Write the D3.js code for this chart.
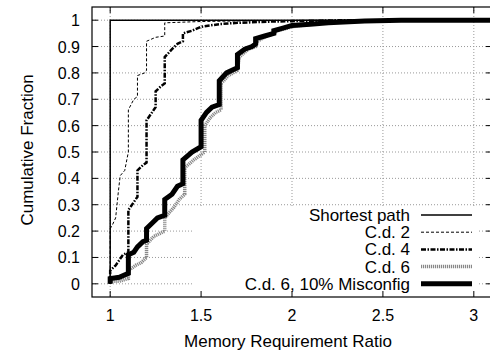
<!DOCTYPE html>
<html><head><meta charset="utf-8">
<script src="https://cdn.jsdelivr.net/npm/d3@7"></script>
<style>body{margin:0;background:#fff}svg{display:block;font-family:"Liberation Sans",Arial,Helvetica,sans-serif}</style>
</head><body><svg id="c" width="490" height="352"></svg>
<script>
const xTicks = [1, 1.5, 2, 2.5, 3];
const yTicks = [0, 0.1, 0.2, 0.3, 0.4, 0.5, 0.6, 0.7, 0.8, 0.9, 1];
const seriesNames = ["Shortest path", "C.d. 2", "C.d. 4", "C.d. 6", "C.d. 6, 10% Misconfig"];
const shortestPath = [[1,0],[1,1],[3.1,1]];
const cd2 = [[1,0],[1,0.21],[1.01,0.22],[1.03,0.25],[1.045,0.35],[1.055,0.41],[1.08,0.43],[1.1,0.5],[1.1,0.66],[1.13,0.70],[1.15,0.71],[1.15,0.79],[1.19,0.80],[1.2,0.81],[1.2,0.92],[1.25,0.935],[1.3,0.94],[1.3,0.99],[1.5,0.995],[1.8,0.998],[2.2,1],[3.1,1]];
const cd4 = [[1,0],[1,0.05],[1.03,0.07],[1.07,0.11],[1.1,0.12],[1.1,0.28],[1.14,0.32],[1.15,0.33],[1.15,0.43],[1.18,0.45],[1.2,0.46],[1.2,0.62],[1.24,0.66],[1.25,0.67],[1.25,0.73],[1.28,0.75],[1.3,0.76],[1.3,0.86],[1.34,0.89],[1.37,0.91],[1.4,0.92],[1.4,0.95],[1.45,0.96],[1.5,0.975],[1.55,0.98],[1.6,0.985],[1.7,0.99],[1.9,0.995],[2.3,1],[3.1,1]];
const cd6 = [[1,0],[1,0.01],[1.05,0.01],[1.1,0.02],[1.1,0.05],[1.14,0.07],[1.17,0.08],[1.2,0.1],[1.2,0.15],[1.24,0.18],[1.27,0.19],[1.3,0.2],[1.3,0.25],[1.35,0.29],[1.38,0.32],[1.41,0.34],[1.41,0.44],[1.46,0.47],[1.5,0.49],[1.52,0.5],[1.52,0.6],[1.55,0.63],[1.58,0.65],[1.61,0.66],[1.61,0.76],[1.65,0.79],[1.7,0.81],[1.71,0.86],[1.76,0.89],[1.8,0.9],[1.81,0.92],[1.86,0.94],[1.9,0.95],[1.92,0.96],[2.0,0.975],[2.1,0.985],[2.3,0.995],[2.6,1],[3.1,1]];
const misconfig = [[1,0],[1,0.02],[1.05,0.025],[1.1,0.04],[1.1,0.11],[1.13,0.12],[1.15,0.14],[1.18,0.16],[1.2,0.165],[1.2,0.21],[1.23,0.23],[1.26,0.25],[1.3,0.26],[1.3,0.32],[1.34,0.34],[1.37,0.37],[1.4,0.38],[1.4,0.47],[1.45,0.5],[1.5,0.52],[1.5,0.62],[1.53,0.65],[1.56,0.67],[1.6,0.68],[1.6,0.77],[1.64,0.8],[1.67,0.81],[1.7,0.82],[1.7,0.87],[1.74,0.89],[1.78,0.9],[1.8,0.91],[1.8,0.93],[1.85,0.94],[1.9,0.95],[1.9,0.96],[1.95,0.97],[2.0,0.98],[2.1,0.985],[2.2,0.99],[2.4,0.997],[2.6,1],[3.1,1]];

const styles = [
  {stroke:"#000", width:1.5, dash:null},
  {stroke:"#000", width:1, dash:"3,2"},
  {stroke:"#000", width:2.5, dash:"5,1.5,1.5,1.5"},
  {stroke:"#888", width:3.5, dash:"1.2,0.8"},
  {stroke:"#000", width:5, dash:null}
];
const data = [shortestPath, cd2, cd4, cd6, misconfig];

const svg = d3.select("#c");
const L = 92, R = 492, T = 7, B = 297;
const x = d3.scaleLinear().domain([0.9, 3.1]).range([L, R]);
const y = d3.scaleLinear().domain([-0.05, 1.05]).range([B, T]);

// grid
const g = svg.append("g");
g.selectAll(".hg").data(yTicks).join("line")
  .attr("x1", L).attr("x2", R).attr("y1", d => y(d)).attr("y2", d => y(d))
  .attr("stroke", "#999").attr("stroke-width", 1).attr("stroke-dasharray", "1,2");
g.selectAll(".vg").data(xTicks).join("line")
  .attr("y1", T).attr("y2", B).attr("x1", d => x(d)).attr("x2", d => x(d))
  .attr("stroke", "#999").attr("stroke-width", 1).attr("stroke-dasharray", "1,2");

// legend background
svg.append("rect").attr("x", 192).attr("y", 208).attr("width", 286).attr("height", 88).attr("fill", "#fff");

// ticks (inward, all four sides)
const tk = svg.append("g").attr("stroke", "#000").attr("stroke-width", 1);
xTicks.forEach(v => {
  tk.append("line").attr("x1", x(v)).attr("x2", x(v)).attr("y1", B).attr("y2", B - 6);
  tk.append("line").attr("x1", x(v)).attr("x2", x(v)).attr("y1", T).attr("y2", T + 6);
});
yTicks.forEach(v => {
  tk.append("line").attr("x1", L).attr("x2", L + 6).attr("y1", y(v)).attr("y2", y(v));
  tk.append("line").attr("x1", R).attr("x2", R - 6).attr("y1", y(v)).attr("y2", y(v));
});

// curves
const line = d3.line().x(d => x(d[0])).y(d => y(d[1]));
const clip = svg.append("clipPath").attr("id", "cp").append("rect").attr("x", L).attr("y", T).attr("width", R - L).attr("height", B - T);
const order = [3, 4, 2, 1, 0];
order.forEach(i => {
  svg.append("path").attr("d", line(data[i])).attr("fill", "none")
    .attr("clip-path", "url(#cp)")
    .attr("stroke", styles[i].stroke).attr("stroke-width", styles[i].width)
    .attr("stroke-dasharray", styles[i].dash).attr("stroke-linejoin", "miter").attr("stroke-linecap", "butt");
});

// frame
svg.append("rect").attr("x", L).attr("y", T).attr("width", R - L).attr("height", B - T)
  .attr("fill", "none").attr("stroke", "#000").attr("stroke-width", 1.2);

// tick labels
svg.append("g").selectAll("text").data(xTicks).join("text")
  .attr("x", d => x(d)).attr("y", 321).attr("text-anchor", "middle")
  .attr("font-size", 16).text(d => d);
svg.append("g").selectAll("text").data(yTicks).join("text")
  .attr("x", 80).attr("y", d => y(d) + 6).attr("text-anchor", "end")
  .attr("font-size", 16).text(d => d);

// axis labels
svg.append("text").attr("x", 288).attr("y", 347).attr("text-anchor", "middle").attr("font-size", 17).text("Memory Requirement Ratio");
svg.append("text").attr("transform", "translate(33,150) rotate(-90)").attr("text-anchor", "middle").attr("font-size", 17).text("Cumulative Fraction");

// legend
const lg = svg.append("g");
seriesNames.forEach((n, i) => {
  const yy = 215 + i * 17.2;
  lg.append("text").attr("x", 410).attr("y", yy + 6).attr("text-anchor", "end").attr("font-size", 17).text(n);
  lg.append("line").attr("x1", 421).attr("x2", 472).attr("y1", yy).attr("y2", yy)
    .attr("stroke", styles[i].stroke).attr("stroke-width", styles[i].width).attr("stroke-dasharray", styles[i].dash);
});
</script></body></html>
